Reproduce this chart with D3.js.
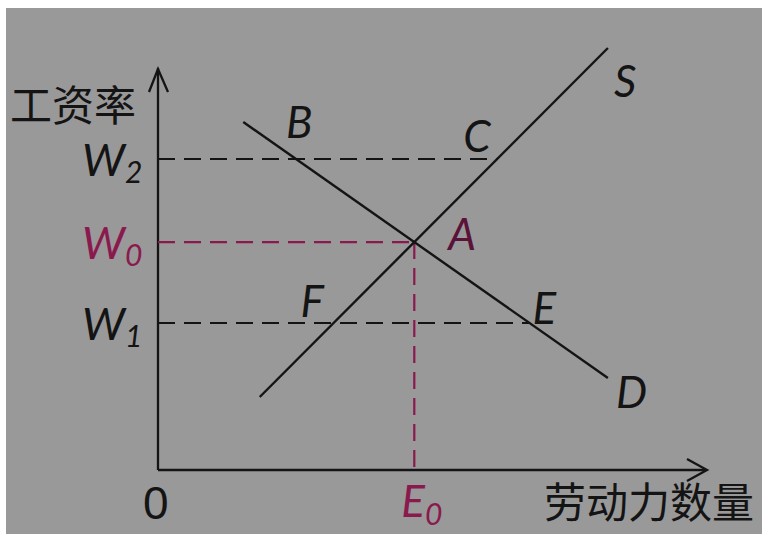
<!DOCTYPE html>
<html><head><meta charset="utf-8">
<script src="https://cdn.jsdelivr.net/npm/d3@7/dist/d3.min.js"></script>
<style>
html,body{margin:0;padding:0;background:#fff;}
svg{display:block;}
</style></head>
<body>
<script>
// ---- data (chart units) ----
const supplyLine = [[18.5, 18.25], [81.8, 105.5]];   // S
const demandLine = [[15.5, 87], [81.8, 23]];         // D
const wageLevels = [77.75, 57, 36.75];               // W2, W0, W1
const wageNames = ["W", "W", "W"];
const wageSubs = ["2", "0", "1"];
const curveNames = ["S", "D"];
const pointNames = ["B", "C", "A", "F", "E"];
const yTitle = "工资率";
const xTitle = "劳动力数量";
const originLabel = "0";
const eqQtyLabel = ["E", "0"];

const W = 762, H = 534;
const svg = d3.select("body").append("svg").attr("width", W).attr("height", H);
svg.append("rect").attr("x", 6).attr("y", 8).attr("width", W - 6).attr("height", H - 8).attr("fill", "#999999");

const x = d3.scaleLinear().domain([0, 100]).range([158, 708]);
const y = d3.scaleLinear().domain([0, 100]).range([470, 70]);

const ink = "#141414", mag = "#8a1a4e";
const italic = "Lato, 'Open Sans', sans-serif";

function lineAt(l, wv) { // q on line l at wage wv
  const [[x1, y1], [x2, y2]] = l;
  return x1 + (wv - y1) * (x2 - x1) / (y2 - y1);
}
function intersect(a, b) {
  const [[ax1, ay1], [ax2, ay2]] = a, [[bx1, by1], [bx2, by2]] = b;
  const ma = (ay2 - ay1) / (ax2 - ax1), mb = (by2 - by1) / (bx2 - bx1);
  const q = (by1 - ay1 + ma * ax1 - mb * bx1) / (ma - mb);
  return [q, ay1 + ma * (q - ax1)];
}
const eq = intersect(supplyLine, demandLine);

// axes
const axisG = svg.append("g").attr("stroke", ink).attr("stroke-width", 2.3).attr("fill", "none");
axisG.append("line").attr("x1", x(0)).attr("y1", y(0)).attr("x2", x(0)).attr("y2", y(100.5));
axisG.append("line").attr("x1", x(0)).attr("y1", y(0)).attr("x2", x(99.5)).attr("y2", y(0));
axisG.append("path").attr("d", `M${x(0) - 9},${y(100) + 22} L${x(0)},${y(100) - 1} L${x(0) + 10},${y(100) + 22}`);
axisG.append("path").attr("d", `M${x(100) - 21},${y(0) - 11} L${x(100) - 1},${y(0)} L${x(100) - 21},${y(0) + 11}`);

// dashed guides
const dash = "17,9";
const gG = svg.append("g").attr("fill", "none").attr("stroke-width", 2.2);
gG.append("line").attr("x1", x(0)).attr("x2", x(lineAt(supplyLine, wageLevels[0])))
  .attr("y1", y(wageLevels[0])).attr("y2", y(wageLevels[0])).attr("stroke", ink).attr("stroke-dasharray", dash);
gG.append("line").attr("x1", x(0)).attr("x2", x(lineAt(demandLine, wageLevels[2])))
  .attr("y1", y(wageLevels[2])).attr("y2", y(wageLevels[2])).attr("stroke", ink).attr("stroke-dasharray", dash);
gG.append("line").attr("x1", x(0)).attr("x2", x(eq[0]))
  .attr("y1", y(eq[1])).attr("y2", y(eq[1])).attr("stroke", mag).attr("stroke-dasharray", dash);
gG.append("line").attr("x1", x(eq[0])).attr("x2", x(eq[0]))
  .attr("y1", y(eq[1])).attr("y2", y(0)).attr("stroke", mag).attr("stroke-dasharray", dash);

// S and D lines
const lg = d3.line().x(d => x(d[0])).y(d => y(d[1]));
svg.append("path").datum(supplyLine).attr("d", lg).attr("stroke", ink).attr("stroke-width", 2.4).attr("fill", "none");
svg.append("path").datum(demandLine).attr("d", lg).attr("stroke", ink).attr("stroke-width", 2.4).attr("fill", "none");

function itxt(px, py, t, col, size) {
  return svg.append("text").attr("x", px).attr("y", py).text(t)
    .attr("font-family", italic).attr("font-style", "italic").attr("font-size", size || 44).attr("fill", col || ink);
}
itxt(x(supplyLine[1][0]) + 6, y(supplyLine[1][1]) + 49, curveNames[0]);
itxt(x(demandLine[1][0]) + 8, y(demandLine[1][1]) + 30, curveNames[1]);
const bq = lineAt(demandLine, wageLevels[0]), cq = lineAt(supplyLine, wageLevels[0]);
const fq = lineAt(supplyLine, wageLevels[2]), eqq = lineAt(demandLine, wageLevels[2]);
itxt(x(bq) - 10, y(wageLevels[0]) - 21, pointNames[0]);
itxt(x(cq) - 34, y(wageLevels[0]) - 7, pointNames[1]);
itxt(x(eq[0]) + 34, y(eq[1]) + 8, pointNames[2], "#5a1238");
itxt(x(fq) - 33, y(wageLevels[2]) - 6, pointNames[3]);
itxt(x(eqq) + 3, y(wageLevels[2]) + 1, pointNames[4]);

// wage tick labels
const wCols = [ink, mag, ink];
wageLevels.forEach((wv, i) => {
  const t = svg.append("text").attr("font-family", italic).attr("font-style", "italic").attr("fill", wCols[i])
    .attr("x", 82).attr("y", y(wv) + 17);
  t.append("tspan").attr("font-size", 45).text(wageNames[i]);
  t.append("tspan").attr("font-size", 30).attr("dy", 7).text(wageSubs[i]);
});

// E0 label
const e0 = svg.append("text").attr("font-family", italic).attr("font-style", "italic").attr("fill", mag)
  .attr("x", x(eq[0]) - 13).attr("y", 517);
e0.append("tspan").attr("font-size", 44).text(eqQtyLabel[0]);
e0.append("tspan").attr("font-size", 30).attr("dy", 8).text(eqQtyLabel[1]);

svg.append("text").attr("x", 143).attr("y", 519).text(originLabel)
  .attr("font-family", "'Liberation Sans', sans-serif").attr("font-size", 46).attr("fill", ink);

svg.append("text").attr("x", 10).attr("y", 121).text(yTitle)
  .attr("font-family", "'Noto Sans CJK SC'").attr("font-size", 42).attr("fill", ink);
svg.append("text").attr("x", 544).attr("y", 518).text(xTitle)
  .attr("font-family", "'Noto Sans CJK SC'").attr("font-size", 42).attr("fill", ink);
</script>
</body></html>
